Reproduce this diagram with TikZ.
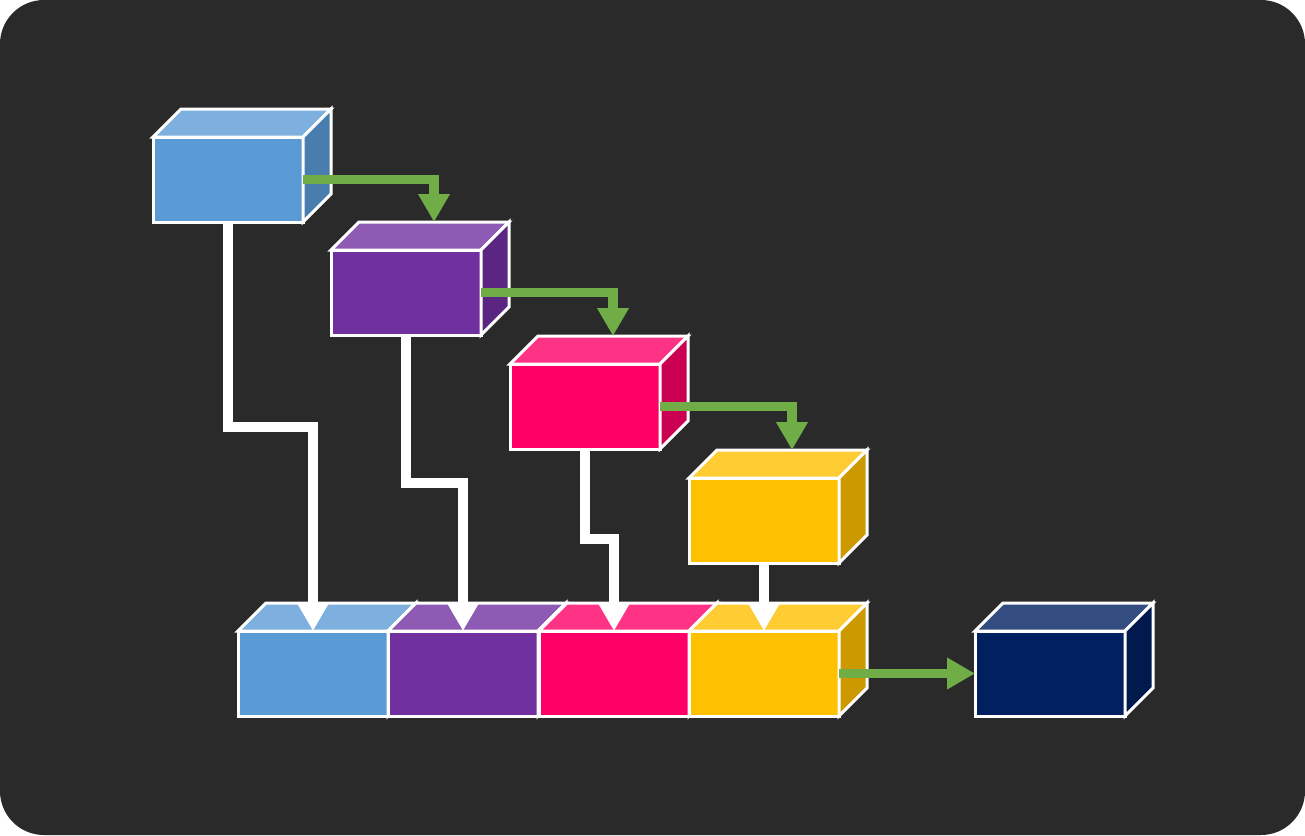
\documentclass[tikz,border=0pt]{standalone}
\usetikzlibrary{arrows.meta,calc}
\definecolor{bg}{HTML}{2A2A2A}
\definecolor{bluef}{HTML}{5B9BD5}\definecolor{bluet}{HTML}{7DAFDF}\definecolor{blues}{HTML}{497DAE}
\definecolor{purf}{HTML}{7030A0}\definecolor{purt}{HTML}{8D5BB4}\definecolor{purs}{HTML}{5A2681}
\definecolor{pinkf}{HTML}{FF0066}\definecolor{pinkt}{HTML}{FF3385}\definecolor{pinks}{HTML}{CC0052}
\definecolor{yelf}{HTML}{FFC000}\definecolor{yelt}{HTML}{FFCC33}\definecolor{yels}{HTML}{CC9A00}
\definecolor{navf}{HTML}{002060}\definecolor{navt}{HTML}{334D80}\definecolor{navs}{HTML}{001A4D}
\definecolor{gr}{HTML}{70AD47}
\tikzset{
  frontface/.style={draw=white, line width=2.25pt, minimum width=112.5pt, minimum height=63.75pt,
    inner sep=0pt, outer sep=0pt, anchor=north west},
  cubeline/.style={draw=white, line width=2.25pt, line join=miter},
  wconn/.style={draw=white, line width=7pt, -{Triangle[width=22.5pt,length=21pt]}},
  gconn/.style={draw=gr, line width=7pt, -{Triangle[width=22.5pt,length=21pt]}},
}
\newcommand\mycube[6]{%
  \node[frontface, fill=#4] (#1) at (#2,#3) {};
  \draw[cubeline, fill=#5] (#1.north west) -- ++(28,-28) -- ++(150,0) -- (#1.north east) -- cycle;
  \draw[cubeline, fill=#6] (#1.north east) -- ++(28,-28) -- ++(0,85) -- (#1.south east) -- cycle;
}
\begin{document}
\begin{tikzpicture}[x=0.75pt,y=-0.75pt]
\fill[white] (0,0) rectangle (1305,835);
\useasboundingbox (0,0) rectangle (1305,835);
\fill[bg, rounded corners=33pt] (0,0) rectangle (1305,835);
% stair cubes
\mycube{c1}{153}{137}{bluef}{bluet}{blues}
\mycube{c2}{331}{250}{purf}{purt}{purs}
\mycube{c3}{510}{364}{pinkf}{pinkt}{pinks}
\mycube{c4}{689}{478}{yelf}{yelt}{yels}
% bottom row
\mycube{b1}{238}{631}{bluef}{bluet}{blues}
\mycube{b2}{388}{631}{purf}{purt}{purs}
\mycube{b3}{539}{631}{pinkf}{pinkt}{pinks}
\mycube{b4}{689}{631}{yelf}{yelt}{yels}
\mycube{n}{975}{631}{navf}{navt}{navs}
% target points on top back edges
\coordinate (c2t) at ($(c2.north)+(28,-28)$);
\coordinate (c3t) at ($(c3.north)+(28,-28)$);
\coordinate (c4t) at ($(c4.north)+(28,-28)$);
% white connectors
\draw[wconn] (c1.south) -- ++(0,205) -| (b1.north);
\draw[wconn] (c2.south) -- ++(0,148) -| (b2.north);
\draw[wconn] (c3.south) -- ++(0,90) -| (b3.north);
\draw[wconn] (c4.south) -- (b4.north);
% green connectors
\draw[gconn] (c1.east) -| (c2t);
\draw[gconn] (c2.east) -| (c3t);
\draw[gconn] (c3.east) -| (c4t);
\draw[gconn] (b4.east) -- (n.west);
\end{tikzpicture}
\end{document}
